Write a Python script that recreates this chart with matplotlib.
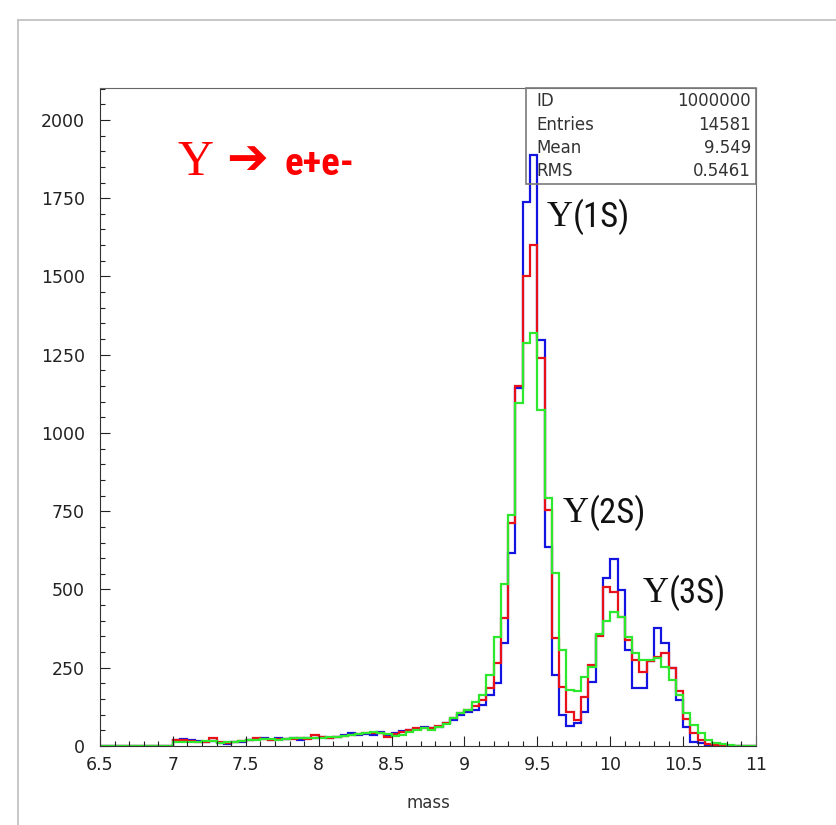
import matplotlib
matplotlib.use("Agg")
import matplotlib.pyplot as plt
import numpy as np
from matplotlib import font_manager
from matplotlib.lines import Line2D
from matplotlib.patches import Rectangle
from matplotlib.ticker import MultipleLocator

# histogram bins : 6.5 -> 11, pas de 0.05
x_min, x_max, bin_w = 6.5, 11.0, 0.05

blue = [
    0, 0, 0, 0, 0, 0, 0, 0, 0, 0,
    20, 22, 18, 15, 14, 16, 8, 6, 12, 14,
    18, 22, 25, 18, 24, 22, 25, 20, 24, 26,
    28, 26, 30, 34, 40, 36, 38, 34, 44, 36,
    40, 48, 52, 54, 60, 56, 62, 72, 84, 100,
    110, 115, 131, 163, 201, 329, 616, 1145, 1739, 1888,
    1297, 637, 227, 99, 64, 73, 110, 205, 355, 536,
    596, 498, 307, 185, 185, 270, 377, 330, 249, 147,
    62, 14, 10, 4, 3, 1, 0, 0, 0, 0,
]
red = [
    0, 0, 0, 0, 0, 0, 0, 0, 0, 0,
    18, 18, 15, 14, 14, 24, 12, 8, 12, 15,
    20, 24, 22, 20, 22, 21, 23, 24, 22, 36,
    30, 27, 28, 32, 36, 38, 40, 42, 40, 30,
    38, 44, 52, 56, 58, 56, 64, 74, 88, 104,
    116, 128, 147, 184, 265, 409, 712, 1150, 1500, 1600,
    1240, 754, 345, 190, 110, 83, 155, 259, 352, 509,
    493, 413, 339, 275, 237, 270, 285, 298, 249, 177,
    85, 41, 19, 6, 4, 2, 0, 0, 0, 0,
]
green = [
    0, 0, 0, 0, 0, 0, 0, 0, 0, 0,
    12, 14, 14, 12, 15, 15, 10, 12, 14, 15,
    18, 20, 21, 22, 20, 23, 24, 26, 24, 25,
    27, 28, 29, 32, 34, 38, 40, 44, 42, 38,
    32, 36, 46, 52, 56, 50, 60, 70, 90, 106,
    115, 142, 163, 227, 348, 518, 738, 1096, 1288, 1320,
    1073, 792, 554, 307, 179, 175, 221, 251, 358, 400,
    429, 413, 349, 297, 275, 275, 281, 253, 211, 163,
    104, 67, 41, 19, 10, 5, 2, 0, 0, 0,
]

x_ticks = [6.5, 7, 7.5, 8, 8.5, 9, 9.5, 10, 10.5, 11]
x_labels = ["6.5", "7", "7.5", "8", "8.5", "9", "9.5", "10", "10.5", "11"]
y_ticks = [0, 250, 500, 750, 1000, 1250, 1500, 1750, 2000]

stats_names = ["ID", "Entries", "Mean", "RMS"]
stats_vals = ["1000000", "14581", "9.549", "0.5461"]

peaks = ["(1S)", "(2S)", "(3S)"]

W, H = 836, 825


def fx(px):
    return px / W


def fy(py):
    return 1 - py / H


# police etroite si on en trouve une
dispo = {f.name for f in font_manager.fontManager.ttflist}
narrow = None
for nom in ["Liberation Sans Narrow", "Roboto Condensed", "Open Sans Condensed",
            "Noto Sans Display", "DejaVu Sans Condensed"]:
    if nom in dispo:
        narrow = nom
        break

fig = plt.figure(figsize=(W / 100, H / 100), dpi=100)
fig.patch.set_facecolor("white")

# cadre exterieur gris
fig.add_artist(Line2D([fx(18), fx(18)], [fy(20), 0], color="#bdbdbd", lw=1.2))
fig.add_artist(Line2D([fx(18), 1], [fy(20), fy(20)], color="#bdbdbd", lw=1.2))

ax = fig.add_axes([fx(100), fy(746), (756 - 100) / W, (746 - 88) / H])
edges = np.linspace(x_min, x_max, int(round((x_max - x_min) / bin_w)) + 1)

ax.stairs(blue, edges, color="#1414e0", lw=1.6)
ax.stairs(red, edges, color="#e8101a", lw=1.6)
ax.stairs(green, edges, color="#2ee82e", lw=1.6)

ax.set_xlim(x_min, x_max)
ax.set_ylim(0, 2102)
ax.set_xticks(x_ticks)
ax.set_xticklabels(x_labels)
ax.set_yticks(y_ticks)
ax.xaxis.set_minor_locator(MultipleLocator(0.1))
ax.yaxis.set_minor_locator(MultipleLocator(50))
ax.tick_params(which="both", direction="in", colors="#222222", width=0.8,
               labelsize=12.5, labelcolor="#222222")
ax.tick_params(which="major", length=7)
ax.tick_params(which="minor", length=3.5)
ax.tick_params(axis="y", pad=11)
ax.tick_params(axis="x", pad=7)
for s in ["left", "bottom"]:
    ax.spines[s].set_color("#333333")
for s in ["top", "right"]:
    ax.spines[s].set_color("#666666")
    ax.spines[s].set_linewidth(0.8)

fig.text(fx(428), fy(803), "mass", ha="center", va="center", fontsize=12,
         color="#333333")

# boite de stats
fig.add_artist(Rectangle((fx(526), fy(184)), (756 - 526) / W, (184 - 88) / H,
                         fill=False, edgecolor="#7a7a7a", lw=1.2))
for k, (n, v) in enumerate(zip(stats_names, stats_vals)):
    yy = fy(101 + k * 23.5)
    fig.text(fx(536), yy, n, ha="left", va="center", fontsize=12, color="#333333")
    fig.text(fx(751), yy, v, ha="right", va="center", fontsize=12, color="#333333")

# titre Y -> e+e-
fig.text(fx(177), fy(175), "Υ", ha="left", va="baseline", fontsize=36,
         color="#ff0000", family="Liberation Serif")
fig.text(fx(226), fy(174), "➔", ha="left", va="baseline", fontsize=36,
         color="#ff0000", family="DejaVu Sans", weight="bold")
if narrow:
    fig.text(fx(285), fy(175), "e+e-", ha="left", va="baseline", fontsize=28,
             color="#ff0000", family=narrow, weight="bold")
else:
    fig.text(fx(285), fy(175), "e+e-", ha="left", va="baseline", fontsize=24,
             color="#ff0000", family="Liberation Sans", weight="bold")

# etiquettes des pics
pos = [(547, 226), (563, 522), (643, 602)]
for lab, (px, py) in zip(peaks, pos):
    fig.text(fx(px), fy(py), "Υ", ha="left", va="baseline", fontsize=26,
             color="#111111", family="Liberation Serif")
    fig.text(fx(px + 26), fy(py + 1), lab, ha="left", va="baseline",
             fontsize=25 if narrow else 22, color="#111111",
             family=narrow if narrow else "Liberation Sans")

fig.savefig("out.png", dpi=100)
